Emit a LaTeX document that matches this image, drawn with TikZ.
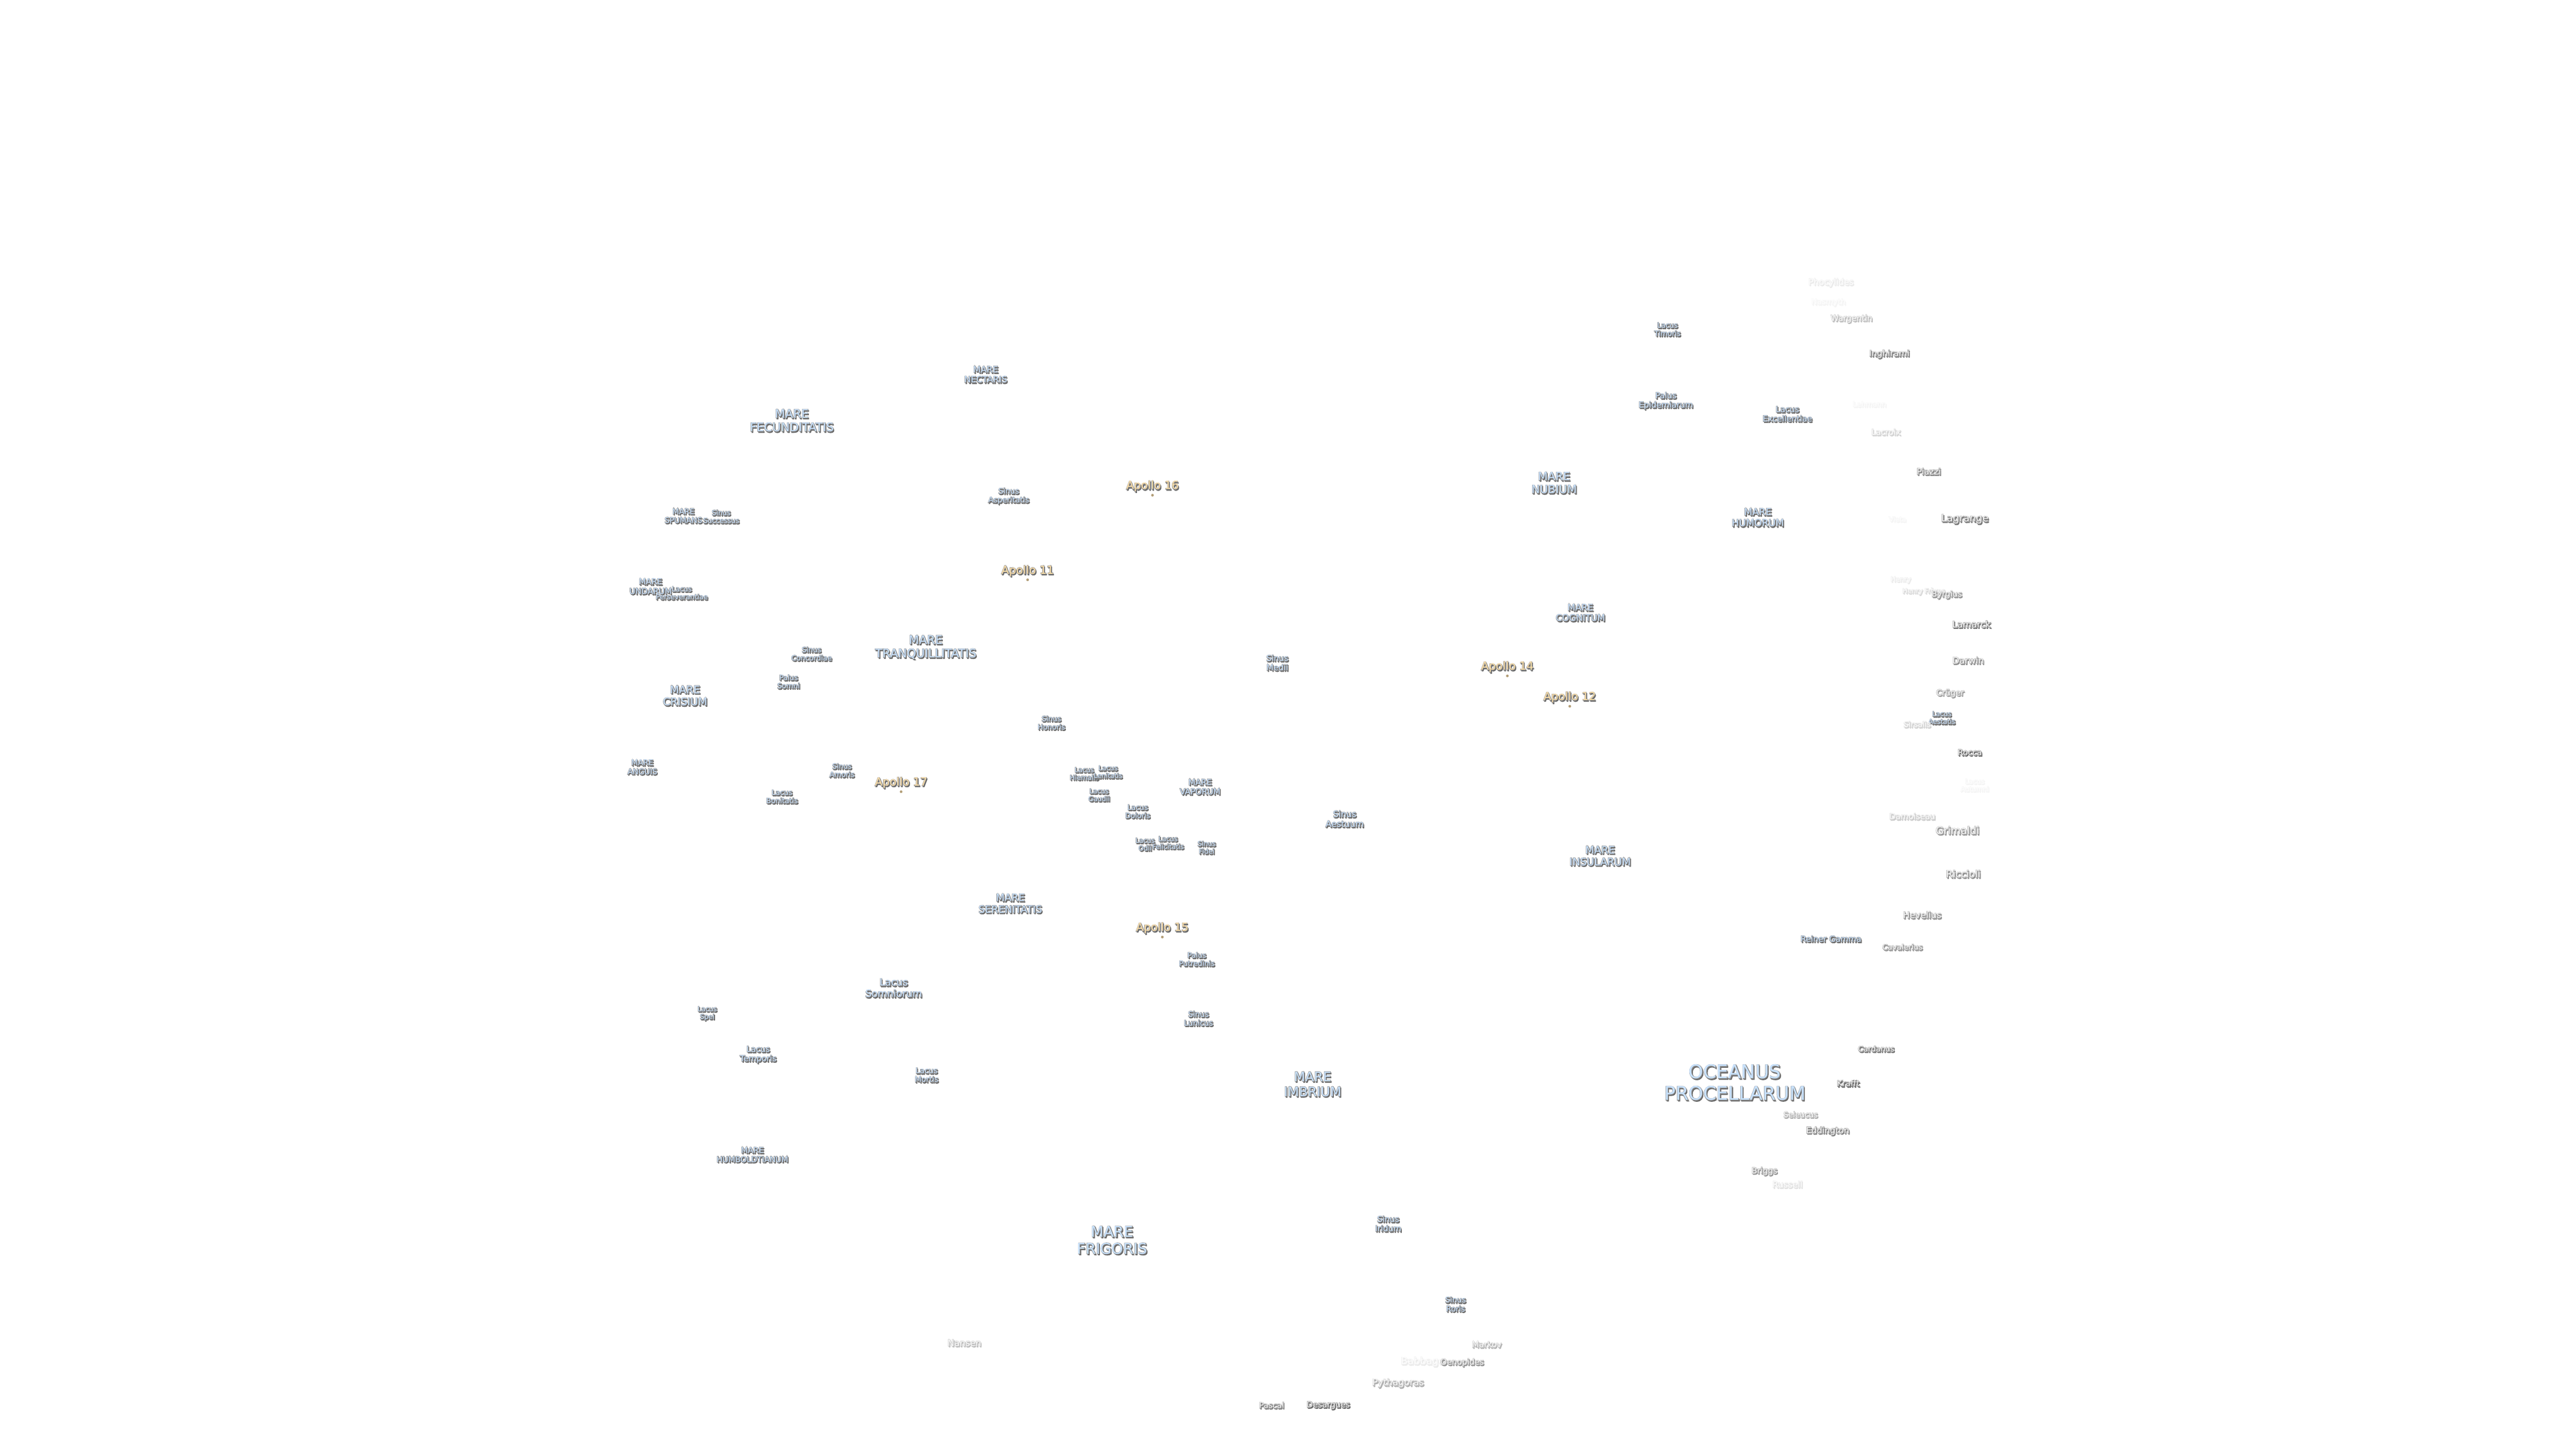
\documentclass[tikz,border=0pt]{standalone}
\definecolor{marefill}{HTML}{C8E2FF}
\definecolor{apfill}{HTML}{FFE0A8}
\definecolor{crfill}{HTML}{F4F4F4}
\definecolor{halo}{HTML}{8C8C8C}
\definecolor{shad}{HTML}{666666}
\tikzset{
  x=0.36735pt,y=-0.36735pt,
  lbl/.style={inner sep=0pt,outer sep=0pt,align=center},
  apdot/.style={circle,inner sep=0pt,minimum size=0.6pt,fill=apfill!70!black}
}
% \lab{name}{x}{y}{size px}{fill colour}{strength %}{text}
\newcommand{\lab}[7]{%
  \pgfmathsetmacro{\lpx}{#4<19 ? #4*1.07 : #4}%
  \pgfmathsetmacro{\lsz}{\lpx*0.1}%
  \pgfmathsetmacro{\lsk}{\lpx*0.115}%
  \pgfmathsetmacro{\lemb}{190/\lpx}%
  \pgfmathsetmacro{\lembb}{130/\lpx}%
  \edef\lfa{\noexpand\font\noexpand\ff="DejaVu Sans:embolden=\lemb" at \lsz pt\noexpand\ff\noexpand\baselineskip=\lsk pt\relax}%
  \edef\lfb{\noexpand\font\noexpand\ff="DejaVu Sans:embolden=\lembb" at \lsz pt\noexpand\ff\noexpand\baselineskip=\lsk pt\relax}%
  \edef\lfc{\noexpand\font\noexpand\ff="DejaVu Sans" at \lsz pt\noexpand\ff\noexpand\baselineskip=\lsk pt\relax}%
  \node[lbl,font=\lfb,text=shad!#6!white,xshift=0.18pt,yshift=-0.24pt] at (#2,#3) {#7};
  \node[lbl,font=\lfa,text=halo!#6!white] at (#2,#3) {#7};
  \node[lbl,font=\lfc,text=#5!#6!white] (#1) at (#2,#3) {#7};
}
\newcommand{\apollo}[4]{%
  \lab{#1}{#2}{#3}{25}{apfill}{100}{#4}%
  \node[apdot] (#1dot) at (#1.south) [yshift=-0.8pt] {};
}
\begin{document}
\begin{tikzpicture}
\useasboundingbox (0,0) rectangle (1568,882);
% maria
\lab{oc}{1056}{659}{42}{marefill}{100}{OCEANUS\\PROCELLARUM}
\lab{fri}{677}{755}{33}{marefill}{100}{MARE\\FRIGORIS}
\lab{imb}{799}{660}{29}{marefill}{100}{MARE\\IMBRIUM}
\lab{tra}{563.5}{394}{26.3}{marefill}{100}{MARE\\TRANQUILLITATIS}
\lab{fec}{482}{256}{26.3}{marefill}{100}{MARE\\FECUNDITATIS}
\lab{ser}{615}{550}{22.5}{marefill}{100}{MARE\\SERENITATIS}
\lab{nec}{600}{228}{19.5}{marefill}{100}{MARE\\NECTARIS}
\lab{nub}{946}{294}{25}{marefill}{100}{MARE\\NUBIUM}
\lab{hum}{1070}{315}{21.5}{marefill}{100}{MARE\\HUMORUM}
\lab{cog}{962}{373}{20}{marefill}{100}{MARE\\COGNITUM}
\lab{cri}{417}{423.5}{23.5}{marefill}{100}{MARE\\CRISIUM}
\lab{ins}{974}{521}{23}{marefill}{100}{MARE\\INSULARUM}
\lab{vap}{730.5}{479}{17}{marefill}{100}{MARE\\VAPORUM}
\lab{spu}{416}{314}{16}{marefill}{100}{MARE\\SPUMANS}
\lab{und}{396}{357}{17}{marefill}{100}{MARE\\UNDARUM}
\lab{ang}{391}{467}{16}{marefill}{100}{MARE\\ANGUIS}
\lab{hbl}{458}{703}{16.5}{marefill}{100}{MARE\\HUMBOLDTIANUM}
% lakes, bays, marshes
\lab{ltim}{1015}{200.5}{15}{marefill}{100}{Lacus\\Timoris}
\lab{pepi}{1014}{244}{17}{marefill}{100}{Palus\\Epidemiarum}
\lab{lexc}{1088}{252}{17}{marefill}{100}{Lacus\\Excellentiae}
\lab{sasp}{614}{302}{16}{marefill}{100}{Sinus\\Asperitatis}
\lab{ssuc}{439}{314.5}{14.5}{marefill}{100}{Sinus\\Successus}
\lab{lper}{415}{361}{14.5}{marefill}{100}{Lacus\\Perseverantiae}
\lab{scon}{494}{398}{15}{marefill}{100}{Sinus\\Concordiae}
\lab{psom}{480}{415}{15}{marefill}{100}{Palus\\Somni}
\lab{smed}{777.5}{403.5}{17}{marefill}{100}{Sinus\\Medii}
\lab{shon}{640}{440}{15}{marefill}{100}{Sinus\\Honoris}
\lab{samo}{512.5}{469}{15}{marefill}{100}{Sinus\\Amoris}
\lab{lbon}{476}{485}{15}{marefill}{100}{Lacus\\Bonitatis}
\lab{lhie}{660}{471}{14}{marefill}{100}{Lacus\\Hiemalis}
\lab{llen}{674.5}{470}{14}{marefill}{100}{Lacus\\Lenitatis}
\lab{lgau}{669}{484}{14}{marefill}{100}{Lacus\\Gaudii}
\lab{ldol}{692.5}{494}{15}{marefill}{100}{Lacus\\Doloris}
\lab{lodi}{697}{514}{14}{marefill}{100}{Lacus\\Odii}
\lab{lfel}{711}{513}{14}{marefill}{100}{Lacus\\Felicitatis}
\lab{sfid}{734.5}{516}{14}{marefill}{100}{Sinus\\Fidei}
\lab{saes}{818.5}{498.5}{18}{marefill}{100}{Sinus\\Aestuum}
\lab{pput}{728.5}{584}{15}{marefill}{100}{Palus\\Putredinis}
\lab{slun}{729.5}{620}{16}{marefill}{100}{Sinus\\Lunicus}
\lab{lsom}{544}{601.5}{22}{marefill}{100}{Lacus\\Somniorum}
\lab{lspe}{430.5}{617}{14}{marefill}{100}{Lacus\\Spei}
\lab{ltem}{461.5}{642}{17}{marefill}{100}{Lacus\\Temporis}
\lab{lmor}{564}{654.5}{16}{marefill}{100}{Lacus\\Mortis}
\lab{siri}{845}{745}{17}{marefill}{100}{Sinus\\Iridum}
\lab{sror}{886}{794}{16}{marefill}{100}{Sinus\\Roris}
\lab{laes}{1182}{437}{14}{marefill}{100}{Lacus\\Aestatis}
\lab{rein}{1114.5}{571.5}{17}{marefill}{100}{Reiner Gamma}
% landing sites
\apollo{a16}{701.5}{296}{Apollo 16}
\apollo{a11}{625.5}{347.5}{Apollo 11}
\apollo{a14}{917.5}{406}{Apollo 14}
\apollo{a12}{955.5}{424.5}{Apollo 12}
\apollo{a17}{548.5}{476.5}{Apollo 17}
\apollo{a15}{707.5}{565}{Apollo 15}
% craters
\lab{pho}{1114.5}{172}{19}{crfill}{14}{Phocylides}
\lab{nas}{1113}{184}{16}{crfill}{7}{Nasmyth}
\lab{war}{1127}{194}{17}{crfill}{45}{Wargentin}
\lab{ing}{1150}{215.5}{19}{crfill}{85}{Inghirami}
\lab{leh}{1138}{246}{15}{crfill}{7}{Lehmann}
\lab{lac}{1148}{263}{17}{crfill}{30}{Lacroix}
\lab{pia}{1174}{287}{18}{crfill}{80}{Piazzi}
\lab{vie}{1155}{316}{14}{crfill}{7}{Vieta}
\lab{lag}{1196}{316}{22.5}{crfill}{90}{Lagrange}
\lab{hen}{1157}{353}{14}{crfill}{14}{Henry}
\lab{hfr}{1171}{360}{14}{crfill}{25}{Henry Frères}
\lab{byr}{1185}{362}{17}{crfill}{70}{Byrgius}
\lab{lam}{1200}{380}{20}{crfill}{90}{Lamarck}
\lab{dar}{1198}{402}{20}{crfill}{75}{Darwin}
\lab{cru}{1187}{422}{17}{crfill}{65}{Crüger}
\lab{sir}{1167}{441}{16}{crfill}{30}{Sirsalis}
\lab{roc}{1199}{458}{17}{crfill}{100}{Rocca}
\lab{laut}{1202}{478}{14}{crfill}{7}{Lacus\\Autumni}
\lab{dam}{1164}{497}{17}{crfill}{35}{Damoiseau}
\lab{gri}{1191.5}{505.5}{23}{crfill}{70}{Grimaldi}
\lab{ric}{1195}{532}{22}{crfill}{75}{Riccioli}
\lab{hev}{1170}{557}{20}{crfill}{75}{Hevelius}
\lab{cav}{1158}{576.5}{16}{crfill}{70}{Cavalerius}
\lab{car}{1142}{638.5}{16}{crfill}{90}{Cardanus}
\lab{kra}{1125}{659.5}{17}{crfill}{100}{Krafft}
\lab{sel}{1096}{678.5}{16}{crfill}{55}{Seleucus}
\lab{edd}{1112.5}{688.5}{19}{crfill}{85}{Eddington}
\lab{bri}{1074}{713}{17}{crfill}{70}{Briggs}
\lab{rus}{1088}{721}{18}{crfill}{20}{Russell}
\lab{nan}{587}{817.5}{20}{crfill}{45}{Nansen}
\lab{mar}{905}{818.5}{17}{crfill}{50}{Markov}
\lab{bab}{866}{829}{22}{crfill}{14}{Babbage}
\lab{oen}{890}{829.5}{17}{crfill}{70}{Oenopides}
\lab{pyt}{851}{842}{20.5}{crfill}{55}{Pythagoras}
\lab{pas}{774}{855.5}{16.7}{crfill}{85}{Pascal}
\lab{des}{808.5}{855.5}{17}{crfill}{100}{Desargues}
\end{tikzpicture}
\end{document}
